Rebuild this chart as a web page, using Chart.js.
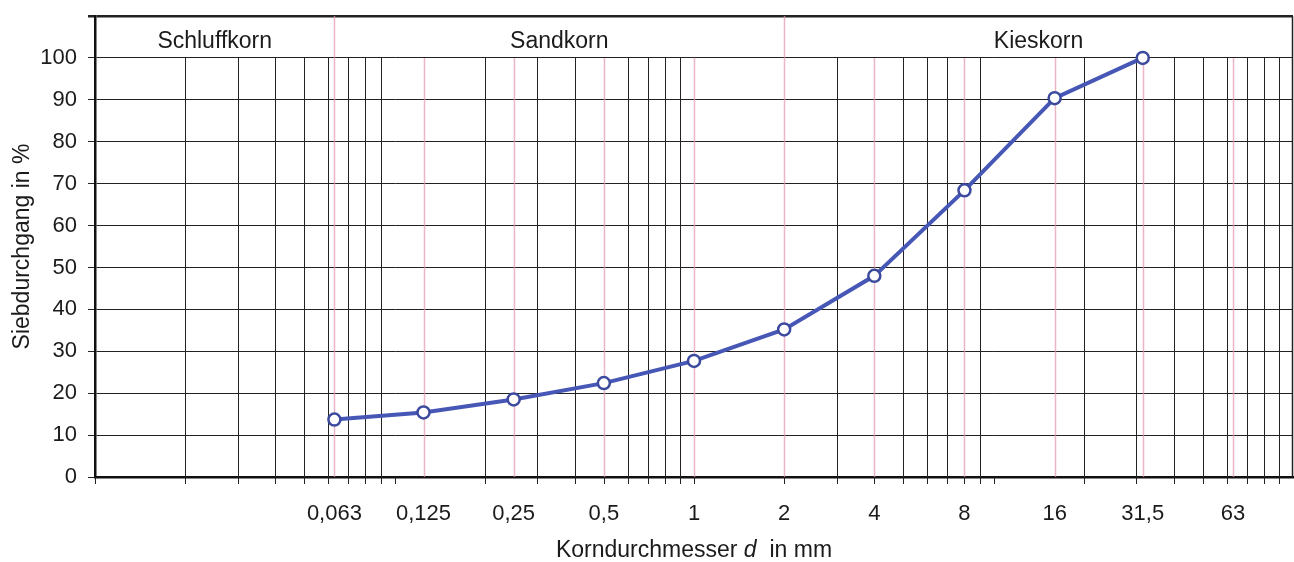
<!DOCTYPE html>
<html lang="de">
<head>
<meta charset="utf-8">
<title>Sieblinie</title>
<script src="https://cdn.jsdelivr.net/npm/chart.js@4.4.1/dist/chart.umd.min.js"></script>
<style>
    html, body { margin: 0; padding: 0; background: #fff; }
    #wrap { position: relative; width: 1294px; height: 562px; }
</style>
</head>
<body>
<div id="wrap"><canvas id="siebChart"></canvas></div>
<script>
/* ===============================
   DATA
================================ */
const sieveSizes  = [0.063, 0.125, 0.25, 0.5, 1, 2, 4, 8, 16, 31.5, 63];
const sieveLabels = ["0,063", "0,125", "0,25", "0,5", "1", "2", "4", "8", "16", "31,5", "63"];

const passSizes   = [0.063, 0.125, 0.25, 0.5, 1, 2, 4, 8, 16, 31.5];
const passPercent = [13.7, 15.4, 18.5, 22.4, 27.7, 35.2, 48.0, 68.4, 90.4, 100];

const yTickValues = [0, 10, 20, 30, 40, 50, 60, 70, 80, 90, 100];

const soilClasses = ["Schluffkorn", "Sandkorn", "Kieskorn"];
const classBounds = [0.01, 0.063, 2, 100];

const gridDecades = [0.01, 0.1, 1, 10];

/* ===============================
   STYLE
================================ */
const FONT = "'Liberation Sans', Arial, Helvetica, sans-serif";
const TEXT = "#1b1b1b";
const GRID = "#222222";
const SIEVE_LINE = "rgba(225, 150, 178, 0.7)";
const X_MIN = 0.01, X_MAX = 100, Y_MAX = 110;

const crisp = v => Math.round(v) + 0.5;

/* ===============================
   GRID / BAND PLUGIN
================================ */
const sieveGrid = {
    id: "sieveGrid",
    beforeDatasetsDraw(chart) {
        const { ctx, chartArea: a, scales: { x, y } } = chart;
        const y0 = y.getPixelForValue(0);
        const y100 = y.getPixelForValue(100);
        const yTop = y.getPixelForValue(Y_MAX);

        ctx.save();

        // log grid lines 1..9 per decade, plus tick marks under the axis
        ctx.strokeStyle = GRID;
        ctx.lineWidth = 1;
        gridDecades.forEach(d => {
            for (let m = 1; m <= 9; m++) {
                const v = d * m;
                const px = crisp(x.getPixelForValue(v));
                const onSieve = sieveSizes.some(s => Math.abs(s - v) / v < 1e-6);
                ctx.beginPath();
                if (!onSieve && m > 1) {
                    ctx.moveTo(px, y100);
                    ctx.lineTo(px, y0);
                }
                ctx.moveTo(px, y0);
                ctx.lineTo(px, y0 + 7);
                ctx.stroke();
            }
        });

        // sieve sizes in pink
        ctx.strokeStyle = SIEVE_LINE;
        ctx.lineWidth = 1.5;
        sieveSizes.forEach(s => {
            const px = Math.round(x.getPixelForValue(s)) + 0.5;
            const isBound = classBounds.includes(s);
            ctx.beginPath();
            ctx.moveTo(px, isBound ? yTop : y100);
            ctx.lineTo(px, y0);
            ctx.stroke();
        });

        // right border
        ctx.strokeStyle = GRID;
        ctx.lineWidth = 1.5;
        ctx.beginPath();
        ctx.moveTo(a.right - 0.5, yTop);
        ctx.lineTo(a.right - 0.5, y0);
        ctx.stroke();

        // soil class names in the top band
        ctx.fillStyle = TEXT;
        ctx.font = "23px " + FONT;
        ctx.textAlign = "center";
        ctx.textBaseline = "alphabetic";
        soilClasses.forEach((name, i) => {
            const left = x.getPixelForValue(classBounds[i]);
            const right = x.getPixelForValue(classBounds[i + 1]);
            ctx.fillText(name, (left + right) / 2, yTop + 32);
        });

        ctx.restore();
    },
    afterDraw(chart) {
        // x axis title with italic symbol d
        const { ctx, scales: { x } } = chart;
        const parts = [
            { text: "Korndurchmesser ", font: "23px " + FONT },
            { text: "d", font: "italic 23px " + FONT },
            { text: "  in mm", font: "23px " + FONT }
        ];
        ctx.save();
        ctx.fillStyle = TEXT;
        ctx.textBaseline = "alphabetic";
        ctx.textAlign = "left";
        const widths = parts.map(p => { ctx.font = p.font; return ctx.measureText(p.text).width; });
        const total = widths.reduce((s, w) => s + w, 0);
        let cx = x.getPixelForValue(1) - total / 2;
        parts.forEach((p, i) => {
            ctx.font = p.font;
            ctx.fillText(p.text, cx, 557);
            cx += widths[i];
        });
        ctx.restore();
    }
};

/* ===============================
   CHART
================================ */
const ctx = document.getElementById("siebChart").getContext("2d");

new Chart(ctx, {
    type: "line",
    data: {
        datasets: [{
            label: "Siebdurchgang",
            data: passSizes.map((d, i) => ({ x: d, y: passPercent[i] })),
            borderColor: "#4757b6",
            borderWidth: 4,
            tension: 0,
            pointRadius: 6,
            pointBorderWidth: 2.5,
            pointBorderColor: "#3c4a9e",
            pointBackgroundColor: "#ffffff"
        }]
    },
    options: {
        responsive: true,
        maintainAspectRatio: false,
        animation: false,
        layout: { autoPadding: false, padding: { top: 16, right: 1, left: 0, bottom: 0 } },
        plugins: {
            legend: { display: false },
            tooltip: { enabled: false }
        },
        scales: {
            x: {
                type: "logarithmic",
                min: X_MIN,
                max: X_MAX,
                afterBuildTicks: scale => {
                    scale.ticks = sieveSizes.map(v => ({ value: v }));
                },
                afterFit: scale => {
                    scale.height = 85;
                    scale.paddingLeft = 0;
                    scale.paddingRight = 0;
                },
                grid: { display: false },
                border: { display: true, color: "#111", width: 2.5 },
                ticks: {
                    autoSkip: false,
                    maxRotation: 0,
                    padding: 16,
                    color: TEXT,
                    font: { family: FONT, size: 22 },
                    callback: (value, index) => sieveLabels[index]
                }
            },
            y: {
                min: 0,
                max: Y_MAX,
                afterBuildTicks: scale => {
                    scale.ticks = yTickValues.concat([Y_MAX]).map(v => ({ value: v }));
                },
                afterFit: scale => {
                    scale.width = 95;
                    scale.paddingTop = 0;
                    scale.paddingBottom = 0;
                },
                grid: {
                    color: GRID,
                    lineWidth: c => (c.tick && c.tick.value === Y_MAX ? 2.5 : 1),
                    tickLength: 7
                },
                border: { display: true, color: "#111", width: 2.5 },
                ticks: {
                    padding: 11,
                    color: TEXT,
                    font: { family: FONT, size: 22 },
                    callback: v => (v === Y_MAX ? "" : String(v))
                },
                title: {
                    display: true,
                    text: "Siebdurchgang in %",
                    color: TEXT,
                    font: { family: FONT, size: 23 },
                    padding: { top: 9, bottom: 0 }
                }
            }
        }
    },
    plugins: [sieveGrid]
});
</script>
</body>
</html>
